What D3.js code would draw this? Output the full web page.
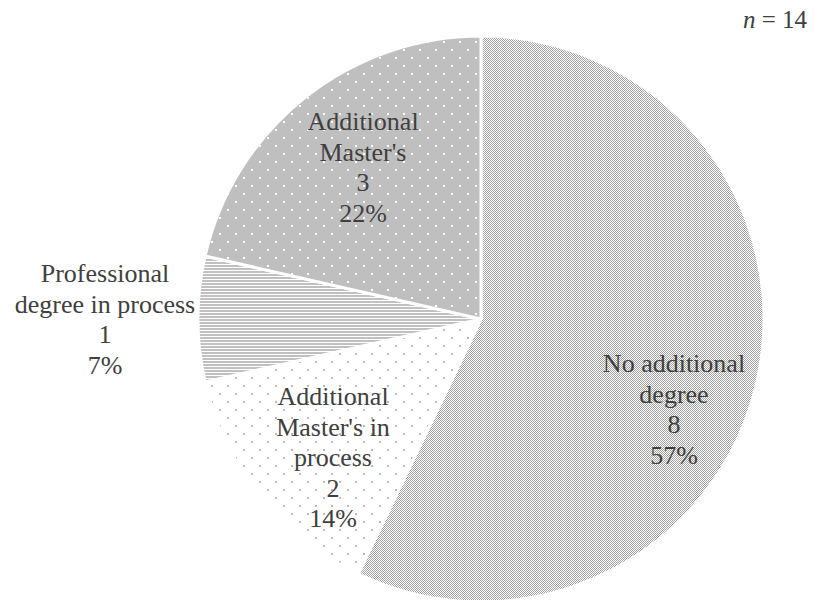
<!DOCTYPE html>
<html>
<head>
<meta charset="utf-8">
<script src="https://cdn.jsdelivr.net/npm/d3@7/dist/d3.min.js"></script>
</head>
<body style="margin:0">
<svg id="chart" width="814" height="600"></svg>
<script>
// Survey responses: further degrees held or in progress
const categories = [
  ["No additional", "degree"],
  ["Additional", "Master's in", "process"],
  ["Professional", "degree in process"],
  ["Additional", "Master's"]
];
const counts = [8, 2, 1, 3];
const percentLabels = ["57%", "14%", "7%", "22%"];
const sampleSize = 14;

// Label anchor (centre x, first baseline) for each slice, relative to the pie centre
const labelAnchors = [
  [193, 53],
  [-148, 86],
  [-376, -37],
  [-118, -189]
];

const textColor = "#404040";
const cx = 481, cy = 319, radius = 283;
const lineHeight = 30.6;

const svg = d3.select("#chart");
const arcs = d3.pie().sort(null).value(d => d).startAngle(0).endAngle(2 * Math.PI)(counts);

const defs = svg.append("defs");

// Fine 50% checkerboard
const pCheck = defs.append("pattern")
  .attr("id", "pat-check").attr("patternUnits", "userSpaceOnUse")
  .attr("width", 2).attr("height", 2);
pCheck.append("rect").attr("width", 2).attr("height", 2).attr("fill", "#ffffff");
pCheck.append("rect").attr("x", 0).attr("y", 0).attr("width", 1).attr("height", 1).attr("fill", "#a3a3a3");
pCheck.append("rect").attr("x", 1).attr("y", 1).attr("width", 1).attr("height", 1).attr("fill", "#a3a3a3");

// Sparse grey dots on white
const pDotsLight = defs.append("pattern")
  .attr("id", "pat-dots-light").attr("patternUnits", "userSpaceOnUse")
  .attr("width", 16).attr("height", 16);
pDotsLight.append("rect").attr("width", 16).attr("height", 16).attr("fill", "#ffffff");
pDotsLight.append("rect").attr("x", 2).attr("y", 2).attr("width", 2).attr("height", 2).attr("fill", "#bababa");
pDotsLight.append("rect").attr("x", 10).attr("y", 10).attr("width", 2).attr("height", 2).attr("fill", "#bababa");

// Horizontal stripes
const pStripes = defs.append("pattern")
  .attr("id", "pat-stripes").attr("patternUnits", "userSpaceOnUse")
  .attr("width", 8).attr("height", 3);
pStripes.append("rect").attr("width", 8).attr("height", 3).attr("fill", "#ffffff");
pStripes.append("rect").attr("x", 0).attr("y", 0).attr("width", 8).attr("height", 2).attr("fill", "#c0c0c0");

// White dots on grey
const pDotsDark = defs.append("pattern")
  .attr("id", "pat-dots-dark").attr("patternUnits", "userSpaceOnUse")
  .attr("width", 16).attr("height", 16);
pDotsDark.append("rect").attr("width", 16).attr("height", 16).attr("fill", "#bfbfbf");
pDotsDark.append("rect").attr("x", 2).attr("y", 2).attr("width", 2).attr("height", 2).attr("fill", "#ffffff");
pDotsDark.append("rect").attr("x", 10).attr("y", 10).attr("width", 2).attr("height", 2).attr("fill", "#ffffff");

const fills = ["url(#pat-check)", "url(#pat-dots-light)", "url(#pat-stripes)", "url(#pat-dots-dark)"];

const arc = d3.arc().innerRadius(0).outerRadius(radius);

svg.append("g")
  .attr("transform", `translate(${cx},${cy})`)
  .selectAll("path")
  .data(arcs)
  .join("path")
  .attr("d", arc)
  .attr("fill", (d, i) => fills[i])
  .attr("stroke", "#ffffff")
  .attr("stroke-width", 3)
  .attr("stroke-linejoin", "round");

// Label lines, one text element per line
const labelRows = [];
counts.forEach((c, i) => {
  [...categories[i], String(c), percentLabels[i]].forEach((row, j) => {
    labelRows.push({
      row,
      x: cx + labelAnchors[i][0],
      y: cy + labelAnchors[i][1] + j * lineHeight
    });
  });
});

svg.selectAll("text.label")
  .data(labelRows)
  .join("text")
  .attr("class", "label")
  .attr("x", d => d.x)
  .attr("y", d => d.y)
  .attr("text-anchor", "middle")
  .attr("font-size", 26)
  .attr("fill", textColor)
  .style("font-family", "'Times New Roman'")
  .text(d => d.row);

// Sample size note: italic n, then "= 14"
const noteSize = 25;
const noteRest = svg.append("text")
  .attr("x", 807).attr("y", 28)
  .attr("text-anchor", "end")
  .attr("font-size", noteSize)
  .attr("fill", textColor)
  .style("font-family", "'Times New Roman'")
  .text("= " + sampleSize);
const restWidth = noteRest.node().getComputedTextLength();
svg.append("text")
  .attr("x", 807 - restWidth - noteSize * 0.25).attr("y", 28)
  .attr("text-anchor", "end")
  .attr("font-size", noteSize)
  .attr("font-style", "italic")
  .attr("fill", textColor)
  .style("font-family", "'Times New Roman'")
  .text("n");
</script>
</body>
</html>
